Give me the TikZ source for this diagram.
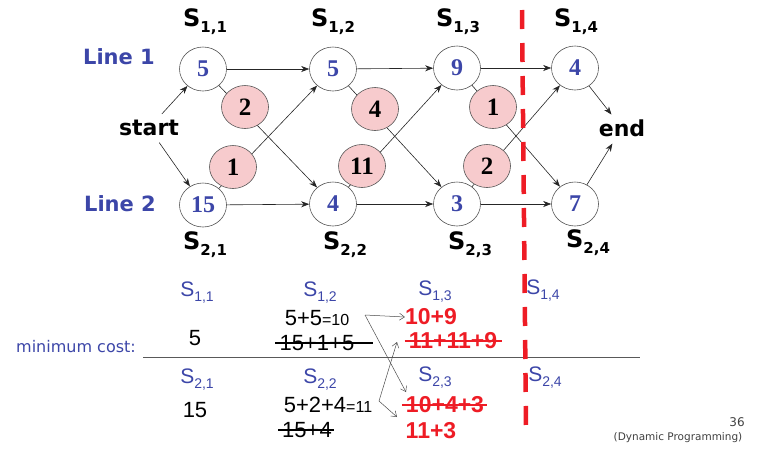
\documentclass[tikz,border=0pt]{standalone}
\usepackage{fontspec}
\setmainfont{DejaVu Sans}
\newfontfamily\tnr{Liberation Serif}
\newfontfamily\arl{Liberation Sans}
\usetikzlibrary{shapes.geometric,arrows.meta}
\definecolor{myblue}{HTML}{3C46A8}
\definecolor{mypink}{HTML}{F7CBCD}
\definecolor{myred}{HTML}{EE1C25}
\definecolor{mygray}{HTML}{555555}
\newcommand{\gS}[1]{S\raisebox{-6pt}{\fontsize{15}{15}\selectfont #1}}
\newcommand{\tS}[1]{S\raisebox{-5pt}{\fontsize{14}{14}\selectfont #1}}
\tikzset{
  stnode/.style={ellipse,draw=mygray,line width=0.6pt,fill=white,minimum width=47pt,minimum height=44pt,inner sep=0pt,font=\tnr\bfseries\fontsize{24}{24}\selectfont,text=myblue},
  pknode/.style={ellipse,draw=mygray,line width=0.6pt,fill=mypink,minimum width=47pt,minimum height=43pt,inner sep=0pt,font=\tnr\bfseries\fontsize{25}{25}\selectfont,text=black},
  slabel/.style={font=\bfseries\fontsize{24}{24}\selectfont,text=black,inner sep=0pt},
  wlabel/.style={font=\bfseries\fontsize{22}{22}\selectfont,text=black,inner sep=0pt},
  linelbl/.style={font=\bfseries\fontsize{21}{21}\selectfont,text=myblue,inner sep=0pt},
  arr/.style={-{Stealth[length=8pt,width=6pt,inset=2.5pt]},line width=0.6pt,draw=black!85},
  tarr/.style={-{Straight Barb[length=5pt,width=7pt]},line width=0.5pt,draw=black!70},
  tlbl/.style={font=\arl\fontsize{21}{21}\selectfont,text=myblue,inner sep=0pt},
  tval/.style={font=\arl\fontsize{22}{22}\selectfont,text=black,inner sep=0pt},
  rval/.style={font=\arl\bfseries\fontsize{23}{23}\selectfont,text=myred,inner sep=0pt},
}
\begin{document}
\begin{tikzpicture}[x=1pt,y=-1pt]
\useasboundingbox (0,0) rectangle (759,448);
% stage labels
\node[slabel] (l11) at (205,22) {\gS{1,1}};
\node[slabel] (l12) at (333,22) {\gS{1,2}};
\node[slabel] (l13) at (458,22) {\gS{1,3}};
\node[slabel] (l14) at (576,22) {\gS{1,4}};
\node[slabel] (l21) at (205,245) {\gS{2,1}};
\node[slabel] (l22) at (345,245) {\gS{2,2}};
\node[slabel] (l23) at (470,245) {\gS{2,3}};
\node[slabel] (l24) at (588,243) {\gS{2,4}};
\node[linelbl] (line1) at (119,57) {Line 1};
\node[linelbl] (line2) at (120,204) {Line 2};
\node[wlabel] (start) at (149,128) {start};
\node[wlabel] (end) at (622,128) {end};
% station nodes
\node[stnode] (s11) at (203,69) {5};
\node[stnode] (s12) at (333,69) {5};
\node[stnode] (s13) at (457,68) {9};
\node[stnode] (s14) at (575,68) {4};
\node[stnode] (s21) at (203,205) {15};
\node[stnode] (s22) at (333,204) {4};
\node[stnode] (s23) at (457,204) {3};
\node[stnode] (s24) at (575,204) {7};
% connectors
\draw[arr,shorten <=8pt] (start) -- (s11);
\draw[arr,shorten <=8pt] (start) -- (s21);
\draw[arr] (s11) -- (s12);
\draw[arr] (s12) -- (s13);
\draw[arr] (s13) -- (s14);
\draw[arr] (s21) -- (s22);
\draw[arr] (s22) -- (s23);
\draw[arr] (s23) -- (s24);
\draw[arr] (s11) -- (s22);
\draw[arr] (s21) -- (s12);
\draw[arr] (s12) -- (s23);
\draw[arr] (s22) -- (s13);
\draw[arr] (s13) -- (s24);
\draw[arr] (s23) -- (s14);
\draw[arr,shorten >=6pt] (s14) -- (end);
\draw[arr,shorten >=8pt] (s24) -- (end);
% transfer costs
\node[pknode] (t1) at (245,107) {2};
\node[pknode] (t2) at (233,167) {1};
\node[pknode] (t3) at (375,109) {4};
\node[pknode] (t4) at (362,166) {11};
\node[pknode] (t5) at (493,107) {1};
\node[pknode] (t6) at (487,166) {2};
% table
\node[font=\fontsize{16}{16}\selectfont,text=myblue,inner sep=0pt] (mc) at (76,347) {minimum cost:};
\draw[line width=0.6pt,draw=black!65] (143,357) coordinate (hl) -- (640,357) coordinate (hr);
\node[tlbl] (c11) at (197,293) {\tS{1,1}};
\node[tval] (v11) at (195,338) {5};
\node[tlbl] (c21) at (197,380) {\tS{2,1}};
\node[tval] (v21) at (195,410) {15};
\node[tlbl] (c12) at (320,293) {\tS{1,2}};
\node[tval] (a12) at (317,318) {5+5{\fontsize{16}{16}\selectfont=10}};
\node[tval] (b12) at (317,343) {15+1+5};
\draw[line width=1.6pt] ([xshift=-4pt]b12.west) -- ([xshift=18pt]b12.east);
\node[tlbl] (c22) at (320,380) {\tS{2,2}};
\node[tval] (a22) at (328,405) {5+2+4{\fontsize{16}{16}\selectfont=11}};
\node[tval] (b22) at (307,430) {15+4};
\draw[line width=1.6pt] ([xshift=-4pt]b22.west) -- ([xshift=2pt]b22.east);
\node[tlbl] (c13) at (435,292) {\tS{1,3}};
\node[rval] (a13) at (431,317) {10+9};
\node[rval] (b13) at (453,341) {11+11+9};
\draw[line width=2pt,myred] ([xshift=-4pt]b13.west) -- ([xshift=5pt]b13.east);
\node[tlbl] (c23) at (435,378) {\tS{2,3}};
\node[rval] (a23) at (445,405) {10+4+3};
\draw[line width=2pt,myred] ([xshift=-4pt]a23.west) -- ([xshift=3pt]a23.east);
\node[rval] (b23) at (431,431) {11+3};
\node[tlbl] (c14) at (543,291) {\tS{1,4}};
\node[tlbl] (c24) at (545,378) {\tS{2,4}};
\coordinate (p1) at (365,315);
\coordinate (p2) at (379,401);
\coordinate (q1) at (397,342);
\coordinate (q2) at (397,417);
\coordinate (q3) at (406,392);
\draw[tarr] (p1) -- (a13.west);
\draw[tarr] (p1) -- (q3);
\draw[tarr] (p2) -- (q1);
\draw[tarr] (p2) -- (q2);
% red dashed cut
\draw[myred,line width=4.5pt,dash pattern=on 19pt off 14pt] (522,10) -- (526,428);
% footer
\node[font=\fontsize{12}{12}\selectfont,text=black!75,inner sep=0pt] (pg) at (737,422) {36};
\node[font=\fontsize{10.5}{10.5}\selectfont,text=black!75,inner sep=0pt] (ft) at (678,438) {(Dynamic Programming)};
\end{tikzpicture}
\end{document}
